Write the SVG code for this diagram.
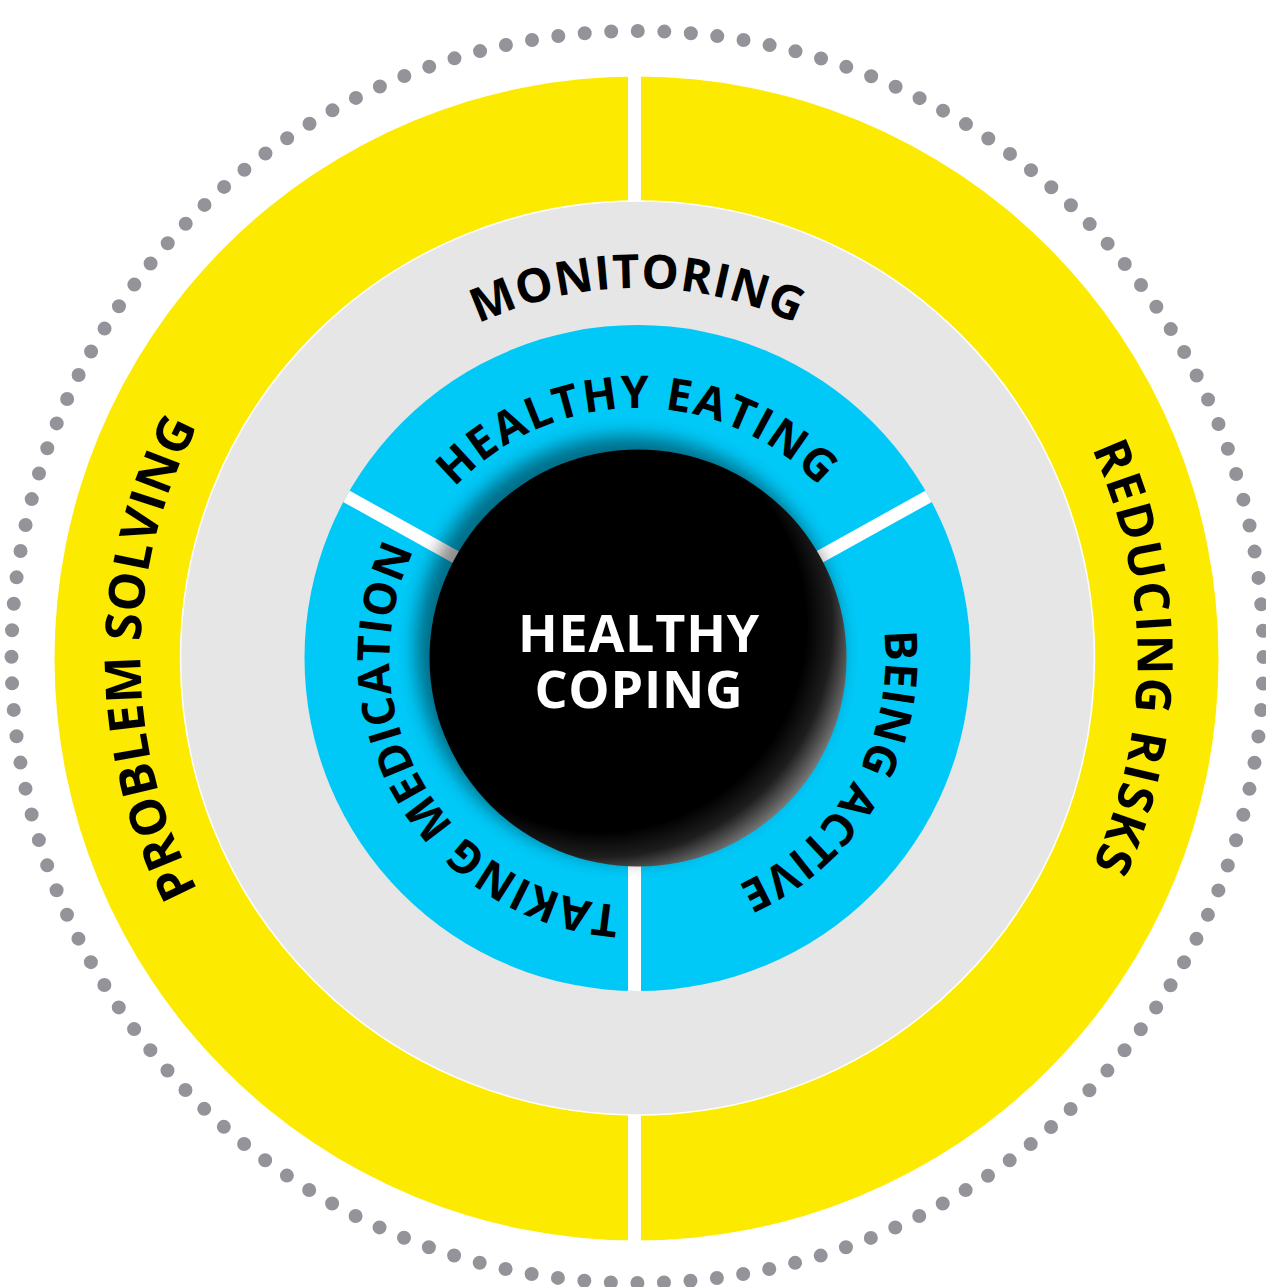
<svg xmlns="http://www.w3.org/2000/svg" width="1266" height="1287" viewBox="0 0 1266 1287">
  <style>
    .lbl { font-family: 'Open Sans', 'Liberation Sans', sans-serif; font-weight: 700; fill: #000; }
    .ctr { font-family: 'Open Sans', 'Liberation Sans', sans-serif; font-weight: 700; fill: #fff; }
    .gap { fill: #fff; }
  </style>
  <defs>
    <radialGradient id="coreGrad" gradientUnits="userSpaceOnUse" cx="600" cy="625" r="258">
      <stop offset="0" stop-color="#000"/>
      <stop offset="0.8" stop-color="#000"/>
      <stop offset="0.9" stop-color="#1e1e1e"/>
      <stop offset="1" stop-color="#777"/>
    </radialGradient>
    <filter id="blur" x="-30%" y="-30%" width="160%" height="160%">
      <feGaussianBlur stdDeviation="9"/>
    </filter>
    <clipPath id="blueClip">
      <circle cx="637.5" cy="658" r="333"/>
    </clipPath>
    <path id="pMon" d="M 267.5 658 A 370 370 0 0 1 1007.5 658"/>
    <path id="pEat" d="M 387.5 658 A 250 250 0 0 1 887.5 658"/>
    <path id="pProb" d="M 637.5 1155 A 497 497 0 0 1 637.5 161"/>
    <path id="pRisk" d="M 637.5 158 A 500 500 0 0 1 637.5 1158"/>
    <path id="pMed" d="M 761.5 872.8 A 248 248 0 0 1 513.5 443.2"/>
    <path id="pAct" d="M 761.5 443.2 A 248 248 0 0 1 513.5 872.8"/>
  </defs>

  <rect width="1266" height="1287" fill="#fff"/>

  <g id="dots">
    <circle cx="637.5" cy="657" r="626" fill="none" stroke="#939399" stroke-width="14" stroke-linecap="round" stroke-dasharray="0 26.576"/>
  </g>

  <g id="outer-ring">
    <circle cx="636.5" cy="658.5" r="582" fill="#FCEB00"/>
    <rect class="gap" x="628" y="60" width="13" height="160"/>
    <rect class="gap" x="628" y="1095" width="13" height="160"/>
    <text class="lbl" font-size="50" letter-spacing="0.5"><textPath href="#pProb" startOffset="50%" text-anchor="middle">PROBLEM SOLVING</textPath></text>
    <text class="lbl" font-size="49" letter-spacing="2"><textPath href="#pRisk" startOffset="50%" text-anchor="middle">REDUCING RISKS</textPath></text>
  </g>

  <g id="monitoring">
    <circle cx="637.5" cy="658" r="457" fill="#E6E6E6" stroke="#fff" stroke-width="1.5"/>
    <text class="lbl" font-size="47" letter-spacing="1"><textPath href="#pMon" startOffset="50%" text-anchor="middle">MONITORING</textPath></text>
  </g>

  <g id="inner-ring">
    <circle cx="637.5" cy="658" r="333" fill="#00C8F7"/>
    <g clip-path="url(#blueClip)">
      <rect class="gap" x="628" y="800" width="13" height="220"/>
      <line x1="637.5" y1="658" x2="940" y2="490" stroke="#fff" stroke-width="13"/>
      <line x1="637.5" y1="658" x2="335" y2="490" stroke="#fff" stroke-width="13"/>
    </g>
    <text class="lbl" font-size="45" letter-spacing="2"><textPath href="#pEat" startOffset="50%" text-anchor="middle">HEALTHY EATING</textPath></text>
    <text class="lbl" font-size="45" letter-spacing="0.7"><textPath href="#pMed" startOffset="50%" text-anchor="middle">TAKING MEDICATION</textPath></text>
    <text class="lbl" font-size="45" letter-spacing="0.6"><textPath href="#pAct" startOffset="50%" text-anchor="middle">BEING ACTIVE</textPath></text>
  </g>

  <g id="core">
    <circle cx="628" cy="648" r="212" fill="#000" opacity="0.45" filter="url(#blur)"/>
    <circle cx="638" cy="658" r="208.5" fill="url(#coreGrad)"/>
    <text class="ctr" font-size="52" letter-spacing="0.8" text-anchor="middle"><tspan x="639" y="652">HEALTHY</tspan><tspan x="639" y="708">COPING</tspan></text>
  </g>
</svg>
